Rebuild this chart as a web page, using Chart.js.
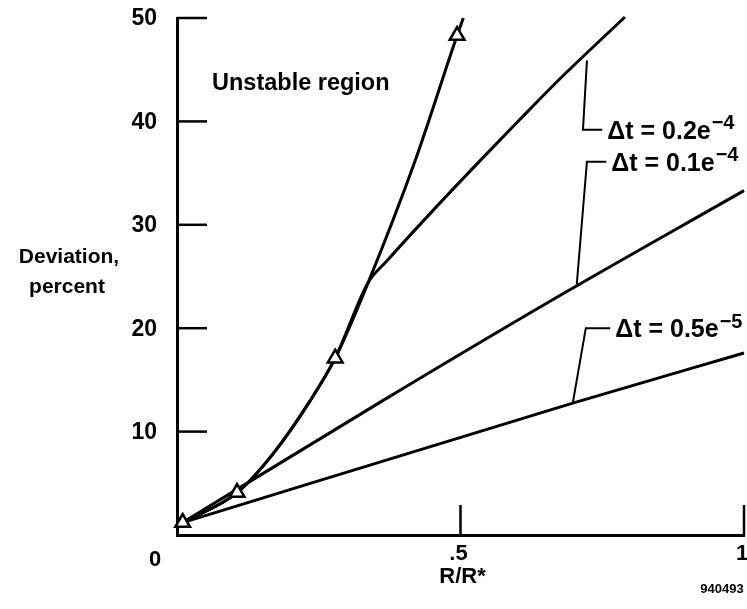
<!DOCTYPE html>
<html>
<head>
<meta charset="utf-8">
<script src="https://cdn.jsdelivr.net/npm/chart.js@4.4.1/dist/chart.umd.min.js"></script>
<style>
  html, body { margin: 0; padding: 0; background: #fff; }
</style>
</head>
<body>
<canvas id="chart" width="747" height="609"></canvas>
<script>
// Values (x = R/R*, y = deviation, percent)
const unstableX = [0.01, 0.106, 0.17, 0.235, 0.279, 0.337, 0.42, 0.494, 0.505];
const unstableY = [1.2, 4.1, 7.9, 13.0, 17.1, 24.4, 36.2, 48.3, 50.0];
const markX = [0.01, 0.106, 0.279, 0.494];
const markY = [1.2, 4.1, 17.1, 48.3];

const dt2e4X = [0.01, 0.106, 0.17, 0.235, 0.279, 0.337, 0.37, 0.45, 0.538, 0.605, 0.675, 0.79];
const dt2e4Y = [1.2, 4.1, 7.9, 13.0, 17.1, 24.4, 26.5, 31.3, 36.4, 40.2, 44.1, 50.1];
const dt1e4X = [0.01, 0.36, 0.661, 1.0];
const dt1e4Y = [1.2, 12.9, 22.7, 33.3];
const dt5e5X = [0.01, 0.698, 1.0];
const dt5e5Y = [1.2, 12.75, 17.6];

// leader lines from the curve labels
const lead2e4X = [0.723, 0.716, 0.75];
const lead2e4Y = [45.9, 39.2, 39.2];
const lead1e4X = [0.705, 0.723, 0.757];
const lead1e4Y = [24.2, 36.1, 36.1];
const lead5e5X = [0.698, 0.721, 0.764];
const lead5e5Y = [12.75, 20.0, 20.0];

const curveLabels = ['\u0394t = 0.2e', '\u0394t = 0.1e', '\u0394t = 0.5e'];
const curveExps = ['\u22124', '\u22124', '\u22125'];

const xTicks = [0, 0.5, 1];
const xTickLabels = ['', '.5', '1'];
const yTicks = [0, 10, 20, 30, 40, 50];
const yTickLabels = ['', '10', '20', '30', '40', '50'];

const fam = "'Liberation Sans', Arial, Helvetica, sans-serif";
const pts = (xs, ys) => xs.map((v, i) => ({ x: v, y: ys[i] }));

const curve = (data, extra) => Object.assign({
    data: data,
    borderColor: '#000',
    borderWidth: 3,
    pointRadius: 0,
    fill: false,
    cubicInterpolationMode: 'monotone',
    clip: 4
}, extra || {});

const leader = data => ({
    data: data,
    borderColor: '#000',
    borderWidth: 2,
    pointRadius: 0,
    fill: false,
    tension: 0
});

// inward ticks, tick labels and all free text
const decor = {
    id: 'decor',
    afterDraw(chart) {
        const { ctx, chartArea: a, scales: { x, y } } = chart;
        ctx.save();
        ctx.strokeStyle = '#000';
        ctx.fillStyle = '#000';
        ctx.lineWidth = 2.5;
        ctx.textBaseline = 'middle';
        ctx.textAlign = 'center';
        ctx.font = 'bold 23px ' + fam;

        y.ticks.forEach((t, i) => {
            if (t.value === 0) return;
            const py = y.getPixelForValue(t.value);
            ctx.beginPath(); ctx.moveTo(a.left, py); ctx.lineTo(a.left + 30, py); ctx.stroke();
            ctx.textAlign = 'right';
            ctx.fillText(yTickLabels[i], a.left - 20, py + 1);
        });
        ctx.font = 'bold 22px ' + fam;
        x.ticks.forEach((t, i) => {
            if (t.value === 0) return;
            const px = x.getPixelForValue(t.value);
            ctx.beginPath(); ctx.moveTo(px, a.bottom); ctx.lineTo(px, a.bottom - 30); ctx.stroke();
            ctx.textAlign = 'center';
            ctx.fillText(xTickLabels[i], px - 2, a.bottom + 19);
        });
        ctx.textAlign = 'center';
        ctx.fillText('0', 155, 560);

        // curve labels, placed at the end of each leader
        const leads = [[lead2e4X, lead2e4Y], [lead1e4X, lead1e4Y], [lead5e5X, lead5e5Y]];
        leads.forEach((l, i) => {
            const n = l[0].length - 1;
            const px = x.getPixelForValue(l[0][n]) + 5;
            const py = y.getPixelForValue(l[1][n]) + 2;
            ctx.textAlign = 'left';
            ctx.font = 'bold 25px ' + fam;
            ctx.fillText(curveLabels[i], px, py);
            const w = ctx.measureText(curveLabels[i]).width;
            ctx.font = 'bold 20px ' + fam;
            ctx.fillText(curveExps[i], px + w + 1, py - 8);
        });

        ctx.textAlign = 'left';
        ctx.font = 'bold 23.5px ' + fam;
        ctx.fillText('Unstable region', 212, 84);

        ctx.textAlign = 'center';
        ctx.font = 'bold 21px ' + fam;
        ctx.fillText('Deviation,', 69, 257);
        ctx.fillText('percent', 67, 287);
        ctx.font = 'bold 22px ' + fam;
        ctx.fillText('R/R*', (a.left + a.right) / 2 + 2, a.bottom + 42);
        ctx.font = 'bold 13px ' + fam;
        ctx.fillText('940493', 722, 589);
        ctx.restore();
    }
};

new Chart(document.getElementById('chart'), {
    type: 'line',
    data: {
        datasets: [
            {
                data: pts(markX, markY),
                showLine: false,
                pointStyle: 'triangle',
                pointRadius: 8.5,
                pointBorderWidth: 2.5,
                pointBorderColor: '#000',
                pointBackgroundColor: '#fff',
                clip: false
            },
            curve(pts(unstableX, unstableY)),
            curve(pts(dt2e4X, dt2e4Y)),
            curve(pts(dt1e4X, dt1e4Y)),
            curve(pts(dt5e5X, dt5e5Y)),
            leader(pts(lead2e4X, lead2e4Y)),
            leader(pts(lead1e4X, lead1e4Y)),
            leader(pts(lead5e5X, lead5e5Y))
        ]
    },
    options: {
        responsive: false,
        animation: false,
        layout: { autoPadding: false, padding: { top: 18, right: 3, left: 0, bottom: 0 } },
        plugins: { legend: { display: false }, tooltip: { enabled: false } },
        scales: {
            x: {
                type: 'linear',
                min: 0,
                max: 1,
                afterFit: s => { s.height = 74; },
                afterBuildTicks: s => { s.ticks = xTicks.map(v => ({ value: v })); },
                grid: { display: false, drawTicks: false },
                border: { display: true, color: '#000', width: 3 },
                ticks: { display: false }
            },
            y: {
                min: 0,
                max: 50,
                afterFit: s => { s.width = 177; },
                afterBuildTicks: s => { s.ticks = yTicks.map(v => ({ value: v })); },
                grid: { display: false, drawTicks: false },
                border: { display: true, color: '#000', width: 3 },
                ticks: { display: false }
            }
        }
    },
    plugins: [decor]
});
</script>
</body>
</html>
